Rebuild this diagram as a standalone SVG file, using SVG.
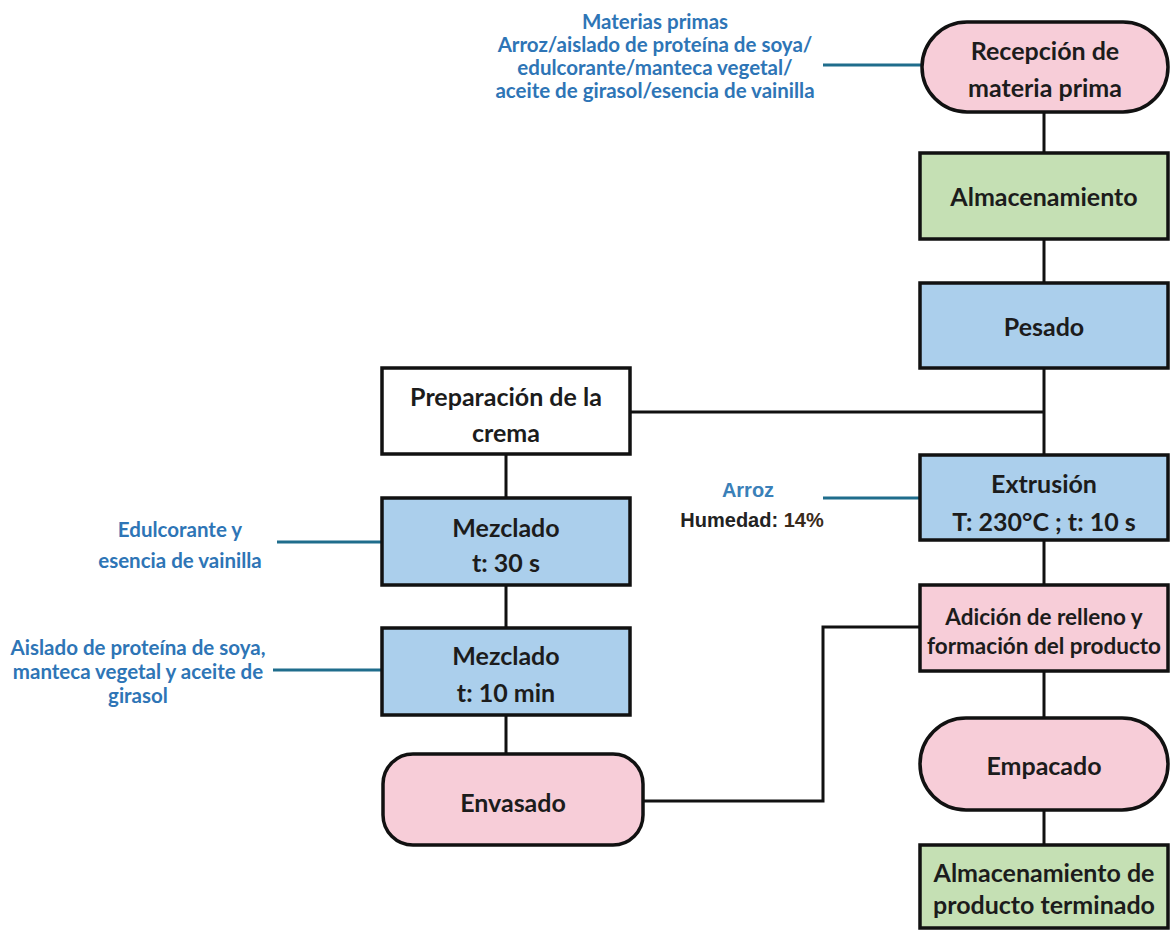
<svg xmlns="http://www.w3.org/2000/svg" width="1171" height="931" viewBox="0 0 1171 931">
<style>
.box{stroke:#111;stroke-width:3.5}
.pink{fill:#f7cdd8}
.green{fill:#c5e0b4}
.blue{fill:#abcfec}
.white{fill:#ffffff}
.t{font-family:Lato,"Liberation Sans",sans-serif;font-weight:700;font-size:25px;fill:#1c1c1c;text-anchor:middle;dominant-baseline:central}
.ts{font-size:22.5px}
.lbl{font-family:Lato,"Liberation Sans",sans-serif;font-weight:700;font-size:20.5px;fill:#2e75b6;text-anchor:middle;dominant-baseline:central}
.ar{font-family:"Liberation Sans",Arial,sans-serif;font-weight:700;font-size:20px;text-anchor:middle;dominant-baseline:central}
.c{stroke:#111;stroke-width:3;fill:none}
.cb{stroke:#1f6d8c;stroke-width:3;fill:none}
</style>
<rect width="1171" height="931" fill="#ffffff"/>
<g id="connectors">
<path class="c" d="M1044 112V153M1044 239V283M1044 368V455M1044 540V585M1044 671V718M1044 810V845"/>
<path class="c" d="M630 412H1044"/>
<path class="c" d="M506 454V498M506 585V628M506 715V754"/>
<path class="c" d="M643 801H823V627H920"/>
<path class="cb" d="M823 65H922M277 542H382M273 670H382M823 498H920"/>
</g>
<g id="lbl-materias">
<text class="lbl" x="655" y="21">Materias primas</text>
<text class="lbl" x="655" y="44">Arroz/aislado de proteína de soya/</text>
<text class="lbl" x="655" y="67">edulcorante/manteca vegetal/</text>
<text class="lbl" x="655" y="90">aceite de girasol/esencia de vainilla</text>
</g>
<g id="lbl-edulcorante">
<text class="lbl" x="180" y="529">Edulcorante y</text>
<text class="lbl" x="180" y="560">esencia de vainilla</text>
</g>
<g id="lbl-aislado">
<text class="lbl" x="138" y="647">Aislado de proteína de soya,</text>
<text class="lbl" x="138" y="671">manteca vegetal y aceite de</text>
<text class="lbl" x="138" y="695">girasol</text>
</g>
<g id="lbl-arroz">
<text class="ar" x="748" y="490" fill="#3a80b8">Arroz</text>
<text class="ar" x="752" y="520" fill="#222">Humedad: <tspan fill="#3a2a1a">14%</tspan></text>
</g>
<g id="recepcion">
<rect class="box pink" x="922" y="22" width="246" height="90" rx="45" ry="45"/>
<text class="t" x="1045" y="50">Recepción de</text>
<text class="t" x="1045" y="87">materia prima</text>
</g>
<g id="almacenamiento">
<rect class="box green" x="920" y="153" width="248" height="86"/>
<text class="t" x="1044" y="196">Almacenamiento</text>
</g>
<g id="pesado">
<rect class="box blue" x="920" y="283" width="248" height="85"/>
<text class="t" x="1044" y="326">Pesado</text>
</g>
<g id="extrusion">
<rect class="box blue" x="920" y="455" width="248" height="85"/>
<text class="t" x="1044" y="483">Extrusión</text>
<text class="t" x="1044" y="521">T: 230°C ; t: 10 s</text>
</g>
<g id="adicion">
<rect class="box pink" x="920" y="585" width="248" height="86"/>
<text class="t ts" x="1044" y="616">Adición de relleno y</text>
<text class="t ts" x="1044" y="645">formación del producto</text>
</g>
<g id="empacado">
<rect class="box pink" x="920" y="718" width="248" height="92" rx="46" ry="46"/>
<text class="t" x="1044" y="765">Empacado</text>
</g>
<g id="almacenamiento-final">
<rect class="box green" x="920" y="845" width="248" height="83"/>
<text class="t" x="1044" y="872">Almacenamiento de</text>
<text class="t" x="1044" y="904">producto terminado</text>
</g>
<g id="preparacion">
<rect class="box white" x="382" y="368" width="248" height="86"/>
<text class="t" x="506" y="396">Preparación de la</text>
<text class="t" x="506" y="432">crema</text>
</g>
<g id="mezclado1">
<rect class="box blue" x="382" y="498" width="248" height="87"/>
<text class="t" x="506" y="527">Mezclado</text>
<text class="t" x="506" y="562">t: 30 s</text>
</g>
<g id="mezclado2">
<rect class="box blue" x="382" y="628" width="248" height="87"/>
<text class="t" x="506" y="655">Mezclado</text>
<text class="t" x="506" y="692">t: 10 min</text>
</g>
<g id="envasado">
<rect class="box pink" x="383" y="754" width="260" height="91" rx="30" ry="30"/>
<text class="t" x="513" y="802">Envasado</text>
</g>
</svg>
